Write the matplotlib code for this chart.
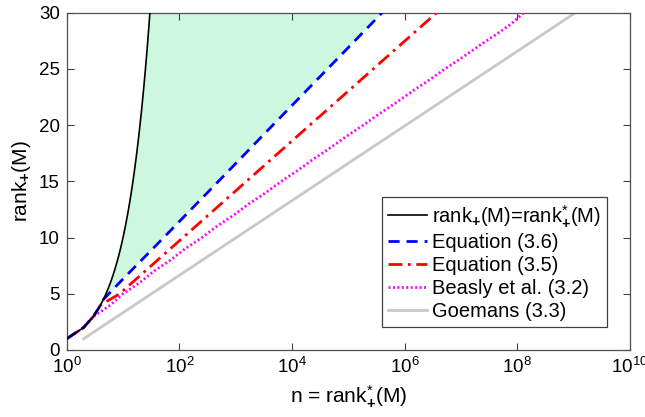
import numpy as np
import matplotlib
matplotlib.use('Agg')
import matplotlib.pyplot as plt

plt.rcParams['font.family'] = ['Liberation Sans', 'DejaVu Sans']
plt.rcParams['mathtext.fontset'] = 'custom'
plt.rcParams['mathtext.rm'] = 'Liberation Sans'
plt.rcParams['mathtext.it'] = 'Liberation Sans'
plt.rcParams['mathtext.bf'] = 'Liberation Sans:bold'

# rank_+(M) = rank*_+(M) = n
exact_r = [1, 2, 3, 4, 5, 6, 7, 8, 9, 10, 11, 12, 13, 14, 15, 16, 17, 18, 19, 20,
           21, 22, 23, 24, 25, 26, 27, 28, 29, 30]
exact_n = exact_r

# Equation (3.6)
eq36_r = [1, 2, 3, 4, 4.5, 5, 6, 7, 8, 9, 10, 12, 15, 20, 25, 30]
eq36_n = [1, 2, 3, 4, 4.5, 5.6, 8.7, 13.6, 21.4, 33.6, 52.8, 129, 494, 4560, 42700, 3.98e5]

# Equation (3.5)
eq35_r = [1, 2, 3, 4, 5, 6, 7, 8, 10, 12, 15, 20, 25, 30]
eq35_n = [1, 2, 3, 4, 8.7, 14.6, 24.5, 41.1, 116, 327, 1550, 20700, 2.77e5, 3.7e6]

# Beasly et al. (3.2)
beasly_r = [1, 2, 3, 4, 5, 6, 7, 8, 9, 10, 11, 12, 13, 14, 15, 16, 17, 18, 19, 20,
            21, 22, 23, 24, 25, 26, 27, 28, 29, 30]
beasly_n = [1, 2, 3, 6, 10, 20, 35, 70, 126, 252, 462, 924, 1716, 3432, 6435,
            12870, 24310, 48620, 92378, 184756, 352716, 705432, 1352078, 2704156,
            5200300, 10400600, 20058300, 40116600, 77558760, 130000000]

# Goemans (3.3)
goemans_r = [1, 10, 20, 30]
goemans_n = [2, 1024, 1048576, 1073741824]

fig = plt.figure(figsize=(6.45, 4.17), dpi=100)
ax = fig.add_axes([0.1034, 0.1607, 0.8733, 0.8088])

# shaded gap between the exact rank and equation (3.6)
bx = np.array(exact_n[3:], dtype=float)
by = np.array(exact_r[3:], dtype=float)
ex = np.array(eq36_n[3:], dtype=float)
ey = np.array(eq36_r[3:], dtype=float)
ax.fill(np.concatenate([bx, ex[::-1]]), np.concatenate([by, ey[::-1]]),
        color='#cdf7df', lw=0, zorder=1)

ax.plot(exact_n, exact_r, color='black', lw=1.2, label=r'rank$_\mathbf{+}$(M)=rank$_\mathbf{+}^{*}$(M)', zorder=5)
ax.plot(eq36_n, eq36_r, color='#0000ff', lw=2, ls=(0, (4, 2.5)), label='Equation (3.6)', zorder=4)
ax.plot(eq35_n, eq35_r, color='#ff0000', lw=2, ls=(0, (5, 2, 1, 2)), label='Equation (3.5)', zorder=3)
ax.plot(beasly_n, beasly_r, color='#ff00ff', lw=2, ls=(0, (0.7, 0.9)), label='Beasly et al. (3.2)', zorder=3)
ax.plot(goemans_n, goemans_r, color='#c8c8c8', lw=2, label='Goemans (3.3)', zorder=2)

ax.set_xscale('log')
ax.set_xlim(1, 1e10)
ax.set_ylim(0, 30)
ax.set_xticks([1, 1e2, 1e4, 1e6, 1e8, 1e10])
ax.set_yticks([0, 5, 10, 15, 20, 25, 30])
ax.minorticks_off()
ax.tick_params(direction='in', top=True, right=True, length=5, width=0.8,
               labelsize=13.5, colors='#404040', labelcolor='black', pad=5)
for s in ax.spines.values():
    s.set_color('#505050')
    s.set_linewidth(0.9)

ax.set_xlabel(r'n = rank$_\mathbf{+}^{*}$(M)', fontsize=15, labelpad=5)
ax.set_ylabel(r'rank$_\mathbf{+}$(M)', fontsize=15, labelpad=4)

leg = ax.legend(loc='lower right', bbox_to_anchor=(0.9587, 0.068), fontsize=14.5,
                fancybox=False, framealpha=1, edgecolor='#404040', handlelength=1.9,
                handletextpad=0.25, borderpad=0.3, labelspacing=0.2, borderaxespad=0)
leg.get_frame().set_linewidth(0.9)

fig.savefig('out.png', dpi=100)
